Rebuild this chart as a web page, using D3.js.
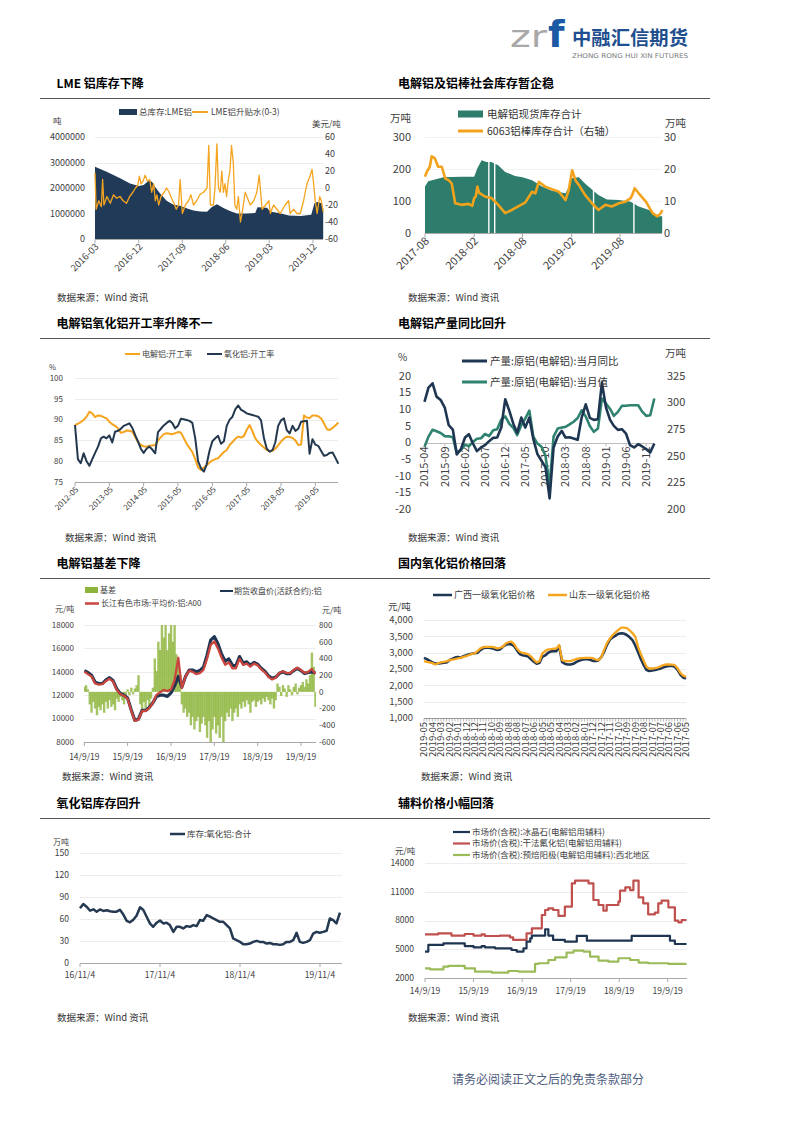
<!DOCTYPE html>
<html><head><meta charset="utf-8">
<script src="https://cdn.jsdelivr.net/npm/d3@7"></script>
<style>body{margin:0;background:#fff}</style>
</head><body>
<script>
// ---------------- DATA ----------------
// Chart 1: LME
const lmeStock = [["2016-03-01",2830000],["2016-05-13",2640000],["2016-08-06",2380000],["2016-10-07",2180000],["2016-12-01",2080000],["2017-01-01",2120000],["2017-02-01",2280000],["2017-02-22",2250000],["2017-03-13",2050000],["2017-04-13",1790000],["2017-05-25",1500000],["2017-07-07",1340000],["2017-08-18",1300000],["2017-10-01",1200000],["2017-11-10",1120000],["2017-12-22",1080000],["2018-02-03",1070000],["2018-03-04",1250000],["2018-04-06",1360000],["2018-05-17",1220000],["2018-06-27",1100000],["2018-08-09",1000000],["2018-10-12",1000000],["2018-12-03",1020000],["2018-12-17",1250000],["2019-02-15",1230000],["2019-03-07",1080000],["2019-05-15",1000000],["2019-07-01",920000],["2019-09-15",900000],["2019-11-20",950000],["2019-12-10",1400000],["2019-12-28",1450000],["2020-01-25",1400000],["2020-02-03",1220000]];
const lmeSpread = [["2016-03-01",18],["2016-03-08",-25],["2016-03-25",-15],["2016-04-10",-22],["2016-04-18",10],["2016-04-26",-20],["2016-05-15",-10],["2016-06-05",-18],["2016-06-25",-8],["2016-07-15",-12],["2016-08-05",-10],["2016-08-25",-15],["2016-09-15",-18],["2016-10-05",-10],["2016-10-25",-5],["2016-11-10",0],["2016-11-25",3],["2016-12-05",14],["2016-12-15",5],["2016-12-28",8],["2017-01-10",15],["2017-01-25",8],["2017-02-08",10],["2017-02-20",-5],["2017-03-05",5],["2017-03-15",-15],["2017-03-25",-8],["2017-04-05",-20],["2017-04-20",-10],["2017-05-10",-5],["2017-05-25",0],["2017-06-10",-5],["2017-06-25",-12],["2017-07-10",-18],["2017-07-25",-25],["2017-08-08",-20],["2017-08-18",10],["2017-09-01",-30],["2017-09-20",-20],["2017-10-10",-15],["2017-10-25",-8],["2017-11-10",-20],["2017-11-30",-15],["2017-12-20",-8],["2018-01-12",-5],["2018-02-03",0],["2018-02-14",50],["2018-02-24",-20],["2018-03-15",-20],["2018-03-25",0],["2018-04-06",52],["2018-04-16",0],["2018-04-27",-5],["2018-05-07",20],["2018-05-17",-5],["2018-05-27",5],["2018-06-06",-10],["2018-06-17",10],["2018-06-27",20],["2018-07-07",50],["2018-07-18",30],["2018-07-28",-20],["2018-08-09",-25],["2018-08-19",-10],["2018-09-01",-40],["2018-09-11",-30],["2018-10-01",-5],["2018-10-22",-15],["2018-11-01",-20],["2018-11-24",-15],["2018-12-13",-5],["2018-12-28",15],["2019-01-15",-25],["2019-02-06",-20],["2019-02-27",-15],["2019-03-08",-30],["2019-03-28",-20],["2019-04-18",-25],["2019-05-09",-30],["2019-06-09",-20],["2019-07-01",-15],["2019-07-10",-30],["2019-08-01",-25],["2019-08-22",-30],["2019-09-12",-30],["2019-10-03",-15],["2019-10-13",-5],["2019-10-24",5],["2019-11-14",15],["2019-11-25",22],["2019-12-05",5],["2019-12-15",-15],["2019-12-27",-30],["2020-01-12",-10],["2020-01-22",-15],["2020-02-03",-28]];
const lmeXTicks = ["2016-03","2016-12","2017-09","2018-06","2019-03","2019-12"];
const lmeYTicks = [0,1000000,2000000,3000000,4000000];
const lmeY2Ticks = [-60,-40,-20,0,20,40,60];

// Chart 2: social inventory
const socStock = [["2017-08-01",145],["2017-08-13",162],["2017-09-07",167],["2017-10-09",174],["2017-12-16",176],["2018-02-01",176],["2018-02-13",202],["2018-03-01",227],["2018-03-19",222],["2018-04-06",222],["2018-05-02",212],["2018-05-28",191],["2018-07-04",178],["2018-08-01",174],["2018-09-06",165],["2018-10-13",145],["2018-11-19",132],["2019-01-09",124],["2019-01-25",150],["2019-01-30",171],["2019-02-28",174],["2019-03-23",155],["2019-05-12",119],["2019-06-13",105],["2019-07-28",103],["2019-09-10",98],["2019-10-10",83],["2019-11-18",72],["2019-12-13",52],["2020-01-06",52]];
const socGaps = ["2018-03-28","2018-04-19","2019-04-24","2019-09-22"];
const rodStock = [["2017-08-01",17.6],["2017-08-07",19],["2017-08-19",20.7],["2017-08-26",24],["2017-09-07",23.3],["2017-09-19",20.7],["2017-10-03",20.7],["2017-10-16",17],["2017-10-28",16.5],["2017-11-09",15.5],["2017-11-22",9.3],["2017-12-16",8.8],["2018-01-11",9.1],["2018-01-25",8.5],["2018-02-01",10.9],["2018-02-07",11.4],["2018-02-13",14.5],["2018-02-19",12.6],["2018-03-13",11.4],["2018-04-07",10.9],["2018-05-02",8.8],["2018-05-28",6.2],["2018-06-22",7.2],["2018-07-16",8.3],["2018-08-11",9.5],["2018-09-06",12.9],["2018-09-18",12.4],["2018-10-01",16],["2018-10-25",14.5],["2018-11-19",13.7],["2018-12-15",12.9],["2019-01-09",10.3],["2019-01-21",13.4],["2019-02-03",19.6],["2019-02-15",16.5],["2019-03-04",14.5],["2019-03-23",11.9],["2019-04-18",9.3],["2019-05-12",7.2],["2019-06-07",8.8],["2019-07-01",8.3],["2019-07-28",9.3],["2019-08-21",9.8],["2019-09-10",10.9],["2019-09-16",11.9],["2019-09-25",14],["2019-10-10",12.4],["2019-11-06",9.8],["2019-12-01",6.2],["2019-12-19",5.2],["2020-01-01",6.2],["2020-01-06",7.2]];
const socXTicks = ["2017-08","2018-02","2018-08","2019-02","2019-08"];
const socYTicks = [0,100,200,300];
const socY2Ticks = [0,10,20,30];

// Chart 3: operating rates (monthly from 2012-05)
const rateStart = "2012-05";
const smeltRate = [88.7,89.0,89.4,89.9,90.7,91.9,91.5,90.6,91.0,90.9,90.6,90.3,89.5,88.9,88.5,87.9,86.8,87.0,87.4,87.3,87.1,85.8,84.6,83.9,83.6,83.5,83.7,83.8,83.9,85.0,85.8,86.5,86.7,86.6,86.5,86.7,87.0,86.9,85.6,84.2,83.2,82.2,80.5,78.5,77.9,78.5,79.0,79.6,80.2,80.5,80.7,81.5,82.2,82.7,83.9,84.6,85.4,85.9,85.7,86.0,87.5,88.7,87.2,85.5,84.6,83.9,83.3,82.7,82.4,82.5,83.0,83.8,84.7,85.4,85.9,85.8,85.6,85.0,83.9,84.0,91.0,90.5,90.4,91.0,91.0,90.8,90.3,89.1,87.7,87.5,88.0,88.6,89.3];
const aluminaRate = [88.7,80.5,79.5,81.9,80.0,78.9,80.5,82.0,83.5,85.5,85.9,85.5,86.2,84.5,87.1,87.3,87.8,88.5,88.8,89.1,88.0,86.2,84.8,83.0,82.0,83.0,83.5,82.8,81.9,87.0,87.8,88.6,89.2,89.7,89.2,87.9,88.5,90.2,90.1,89.9,89.7,89.2,85.5,80.0,78.3,77.5,79.2,82.5,84.8,85.5,86.1,84.2,84.8,88.5,90.0,90.7,92.5,93.4,92.4,92.0,91.5,91.3,91.1,90.9,90.7,89.8,85.5,83.0,82.3,82.7,84.5,88.5,89.8,90.3,87.5,86.7,88.5,87.3,87.8,89.5,89.6,89.7,81.8,85.3,84.0,83.7,82.5,81.3,81.5,82.0,82.1,80.8,79.4];
const rateXTicks = ["2012-05","2013-05","2014-05","2015-05","2016-05","2017-05","2018-05","2019-05"];
const rateYTicks = [75,80,85,90,95,100];

// Chart 4: production (monthly from 2015-04)
const prodStart = "2015-04";
const prodYoY = [12.2,16.5,17.8,13.8,12.8,10.5,5.2,3.9,-3.6,-2.0,1.5,2.5,-0.3,-2.6,-1.5,-0.8,0.4,1.4,1.5,4.5,13.0,9.5,5.5,2.9,7.5,4.5,7.5,1.0,-3.5,-5.5,-7.5,-16.8,-1.5,1.8,3.5,1.5,1.6,1.2,0.8,7.5,11.5,7.4,6.8,7.0,18.0,10.5,6.8,5.0,3.8,4.0,2.7,-0.8,-1.5,-0.5,-1.2,-2.0,-3.0,-0.3];
const prodVol = [258.4,268,274.5,273,271.5,268.5,268.3,267.5,252.5,255.5,260.5,259,263,266,266.5,270.5,268.5,274,275,284,287,280,276,269.5,278.8,285,292.5,268,261.5,258.5,250,221,268,275.6,276.6,277.2,279.5,282,285.5,292.8,287,278,272.5,275.6,303.8,299,294,287.5,291.3,296.9,297,297.5,297.5,297.5,291.5,287.5,288.1,303.8];
const prodXTicks = ["2015-04","2015-09","2016-02","2016-07","2016-12","2017-05","2017-10","2018-03","2018-08","2019-01","2019-06","2019-11"];
const prodYTicks = [-20,-15,-10,-5,0,5,10,15,20];
const prodY2Ticks = [200,225,250,275,300,325];

// Chart 5: basis (semi-monthly from 2014-09-19), prices (monthly)
const basisStart = "2014-09-19";
const basis = [60,80,30,-150,-250,-120,-200,-280,-180,-220,-150,-250,-120,-200,-100,-180,-150,-220,-80,-120,-60,-100,-150,-50,30,-40,50,-30,40,80,200,-150,-250,-120,-200,-100,-180,-80,50,400,250,600,500,800,650,800,500,700,800,600,800,450,300,200,-150,-250,-200,-300,-250,-400,-300,-450,-350,-300,-480,-380,-300,-400,-550,-350,-600,-450,-300,-500,-400,-550,-300,-600,-350,-250,-300,-200,-350,-250,-200,-300,-150,-200,-120,-180,-100,-150,-250,-120,-100,-180,-120,-100,-150,-80,-120,-60,-100,-150,-80,-200,-100,100,60,-50,80,40,-60,80,30,-40,60,100,-30,50,80,120,60,150,100,200,470,300,-180,-100];
const futuresPrice = [14100,13950,13700,13100,13000,13000,13300,13500,13250,12550,12150,12000,11750,10750,9850,9950,10700,10700,10950,11350,11900,12000,12000,11900,12200,12800,13600,12700,13600,14150,14150,14000,14100,14400,15400,16700,17000,16400,15500,14900,15100,14550,14500,15300,14750,14850,14550,14800,14650,14300,14050,13650,13450,13550,13850,14000,13850,13850,14100,14300,14100,13850,13950,14000,13900];
const spotPrice = [14020,13800,13600,13000,12900,12950,13200,13400,13170,12460,12100,11950,11700,10700,9800,9900,10650,10650,10900,11350,12030,12260,12450,12350,12500,13300,15200,12600,13600,14100,14000,13800,13880,14160,15100,16300,16600,16000,15200,14600,14800,14300,14300,15100,14600,14700,14450,14700,14550,14200,13950,13550,13350,13500,13900,14050,13900,13880,14150,14350,14150,13900,14000,14250,13800];
const basisXTicks = [["2014-09-19","14/9/19"],["2015-09-19","15/9/19"],["2016-09-19","16/9/19"],["2017-09-19","17/9/19"],["2018-09-19","18/9/19"],["2019-09-19","19/9/19"]];
const basisYTicks = [8000,10000,12000,14000,16000,18000];
const basisY2Ticks = [-600,-400,-200,0,200,400,600,800];

// Chart 6: alumina prices (categories, newest first)
const gxPrice = [2843,2800,2750,2700,2669,2669,2680,2690,2700,2771,2810,2850,2870,2843,2894,2920,2950,2966,2980,2997,3078,3140,3150,3150,3140,3109,3080,3100,3180,3240,3263,3253,3200,3070,2960,2920,2905,2880,2800,2720,2659,2690,2874,2915,2990,3040,3048,3048,3200,2720,2660,2640,2638,2660,2710,2755,2780,2800,2802,2785,2750,2745,2770,2874,3040,3250,3400,3470,3520,3580,3590,3585,3540,3470,3386,3220,3010,2800,2620,2470,2440,2455,2470,2490,2515,2555,2580,2590,2597,2570,2475,2330,2240,2208];
const sdPrice = [2740,2720,2705,2680,2640,2680,2700,2715,2730,2771,2790,2800,2822,2840,2870,2894,2930,2960,2976,3050,3130,3170,3180,3180,3180,3160,3130,3150,3180,3280,3320,3335,3260,3120,3030,2990,2976,2950,2880,2780,2700,2740,2976,3050,3100,3109,3120,3130,3232,2771,2745,2740,2740,2770,2800,2822,2835,2843,2843,2843,2830,2790,2771,2874,3100,3300,3437,3540,3620,3700,3765,3765,3750,3680,3600,3488,3180,2950,2750,2560,2515,2515,2530,2545,2580,2620,2638,2638,2635,2617,2520,2380,2300,2259];
const aluXLabels = ["2019-05","2019-04","2019-03","2019-02","2019-01","2018-12","2018-12","2018-11","2018-10","2018-09","2018-08","2018-08","2018-07","2018-06","2018-05","2018-05","2018-04","2018-03","2018-02","2018-01","2017-12","2017-12","2017-11","2017-10","2017-09","2017-09","2017-08","2017-07","2017-07","2017-06","2017-06","2017-05"];
const aluYTicks = [1000,1500,2000,2500,3000,3500,4000];

// Chart 7: alumina inventory (semi-monthly from 2016-11-04)
const aluInvStart = "2016-11-04";
const aluInv = [74.5,80.5,76.8,71.3,73.2,70,73,71,72,70.5,70,70,72.5,66,57.5,55.5,59,64.5,75.9,72.3,63.1,54,49.4,55,58,54,54.9,51.7,42.5,49.4,49.4,47.1,50.3,49.4,51.7,50.3,58.5,57.6,65.4,63.1,60.8,58.5,56.2,56.2,51.7,47.1,33.4,31.1,28.8,25.6,25.6,26.5,28.8,30.2,28.8,28.8,26.5,27.4,25.6,25.6,24.7,25.6,28.8,28.8,31.1,41.2,28.8,27.4,28.8,31.1,40.2,42.5,41.2,42.5,43.9,60.8,58.5,54,68.6];
const invXTicks = [["2016-11-04","16/11/4"],["2017-11-04","17/11/4"],["2018-11-04","18/11/4"],["2019-11-04","19/11/4"]];
const invYTicks = [0,30,60,90,120,150];

// Chart 8: auxiliary materials (step series)
const cryolite = [["2014-09-19",4770],["2014-10-14",5460],["2015-02-05",5630],["2015-07-15",5350],["2015-09-19",5220],["2015-11-19",5350],["2015-12-13",5220],["2016-02-28",5110],["2016-07-01",4940],["2016-08-09",4770],["2016-09-29",5110],["2016-10-22",5800],["2016-11-19",6150],["2016-12-01",6430],["2017-03-11",7090],["2017-04-04",6430],["2017-05-10",5980],["2017-08-06",5800],["2017-11-04",6400],["2018-01-19",5910],["2018-12-22",6400],["2019-10-06",5910],["2019-11-12",5560],["2020-02-08",5560]];
const alf3 = [["2014-09-19",6560],["2014-12-28",6670],["2015-04-06",6430],["2015-07-15",6600],["2015-09-19",6430],["2015-11-19",6560],["2015-12-13",6390],["2016-04-04",6430],["2016-06-19",6250],["2016-07-13",5980],["2016-10-22",6670],["2016-12-01",7190],["2017-02-14",8570],["2017-03-11",9090],["2017-04-04",9260],["2017-05-10",9090],["2017-06-19",8470],["2017-08-06",9440],["2017-09-28",11860],["2017-10-22",12130],["2018-01-31",11860],["2018-03-09",10130],["2018-04-17",9610],["2018-05-23",9020],["2018-06-17",9610],["2018-09-13",9960],["2018-09-25",11100],["2018-11-04",11440],["2018-12-10",11160],["2019-01-04",12130],["2019-02-12",10400],["2019-03-19",9780],["2019-04-25",8640],["2019-06-15",8810],["2019-07-10",9780],["2019-08-04",10060],["2019-09-24",9370],["2019-11-12",7980],["2019-12-08",7810],["2020-01-02",8050],["2020-02-08",8050]];
const anode = [["2014-09-19",3040],["2014-10-26",2930],["2015-02-05",3210],["2015-03-13",3280],["2015-07-15",3040],["2015-09-30",2690],["2016-02-03",2590],["2016-06-07",2760],["2016-08-22",2690],["2016-12-25",3490],["2017-01-19",3560],["2017-04-04",3900],["2017-05-25",4180],["2017-08-19",4660],["2017-10-10",4870],["2017-12-25",4770],["2018-02-12",4250],["2018-04-17",3830],["2018-06-29",3730],["2018-09-13",4080],["2018-12-10",3900],["2019-02-12",3630],["2019-04-25",3560],["2019-09-24",3490],["2020-02-08",3490]];
const auxXTicks = [["2014-09-19","14/9/19"],["2015-09-19","15/9/19"],["2016-09-19","16/9/19"],["2017-09-19","17/9/19"],["2018-09-19","18/9/19"],["2019-09-19","19/9/19"]];
const auxYTicks = [2000,5000,8000,11000,14000];

// ---------------- DRAW ----------------
const W=793,H=1122;
const svg=d3.select("body").append("svg").attr("width",W).attr("height",H).style("background","#fff");
const FONT="'Noto Sans CJK SC','Noto Sans',sans-serif";
const pd=d3.timeParse("%Y-%m-%d"), pm=d3.timeParse("%Y-%m");
const ORANGE="#f5a41f", GRID="#ededed", AXIS="#a9a9a9", LBL="#404040";

function T(x,y,s,o={}){
  return svg.append("text").attr("x",x).attr("y",y)
    .attr("font-family",o.family||FONT).attr("font-size",o.size||9)
    .attr("font-weight",o.weight||"normal").attr("fill",o.fill||LBL)
    .attr("text-anchor",o.anchor||"start").attr("dy",o.dy||null).text(s);
}
function L(x1,y1,x2,y2,c,w){ return svg.append("line").attr("x1",x1).attr("y1",y1).attr("x2",x2).attr("y2",y2).attr("stroke",c).attr("stroke-width",w||1); }
function grid(x0,x1,sc,ticks,c){ ticks.forEach(t=>L(x0,Math.round(sc(t))+0.5,x1,Math.round(sc(t))+0.5,c||GRID,1)); }
function yLab(sc,ticks,x,anchor,size,fmt){ ticks.forEach(t=>T(x,sc(t),fmt?fmt(t):String(t),{anchor,size,dy:"0.35em"})); }
function path(d,c,w,fill){ return svg.append("path").attr("d",d).attr("fill",fill||"none").attr("stroke",fill?"none":c).attr("stroke-width",w||1).attr("stroke-linejoin","round"); }
function rotLab(x,y,s,ang,size){ return T(0,0,s,{anchor:"end",size,dy:"0.35em"}).attr("transform",`translate(${x},${y}) rotate(${ang})`); }

// Header
T(510,47,"zr",{family:"'DejaVu Sans',sans-serif",size:31,fill:"#a8a8a8"}).attr("textLength",37).attr("lengthAdjust","spacingAndGlyphs");
T(548,47,"f",{family:"'DejaVu Sans',sans-serif",size:38,weight:"bold",fill:"#1d5aa6"});
T(572,44.5,"中融汇信期货",{size:19,weight:"bold",fill:"#1f4f8e"}).attr("textLength",116).attr("lengthAdjust","spacingAndGlyphs");
T(572,57.5,"ZHONG RONG HUI XIN FUTURES",{family:"'DejaVu Sans',sans-serif",size:6.5,fill:"#7a7a7a"}).attr("textLength",116).attr("lengthAdjust","spacingAndGlyphs");

// Titles, rules, sources
const titles=[["LME 铝库存下降",56.5,88],["电解铝及铝棒社会库存暂企稳",398,88],["电解铝氧化铝开工率升降不一",56.5,328],["电解铝产量同比回升",398,328],["电解铝基差下降",56.5,568],["国内氧化铝价格回落",398,568],["氧化铝库存回升",56.5,808],["辅料价格小幅回落",398,808]];
titles.forEach(t=>T(t[1],t[2],t[0],{size:12,weight:"bold",fill:"#000"}));
[98,338,578,818].forEach(y=>L(40,y+0.5,710,y+0.5,"#555",1));
const sources=[[57,301],[408,301],[65,541],[408,541],[62,780],[421,780],[57,1021],[408,1021]];
sources.forEach(s=>T(s[0],s[1],"数据来源：Wind 资讯",{size:9.5,fill:"#333"}));
T(452,1084,"请务必阅读正文之后的免责条款部分",{size:12,fill:"#4d5b7c"});

// ===== Chart 1: LME =====
{
  const x=d3.scaleTime().domain([pd("2016-03-01"),pd("2019-12-01")]).range([95,313]);
  const y=d3.scaleLinear().domain([0,4000000]).range([239,137]);
  const y2=d3.scaleLinear().domain([-60,60]).range([239,137]);
  grid(95,323,y,lmeYTicks.slice(1));
  path(d3.area().x(d=>x(pd(d[0]))).y0(y(0)).y1(d=>y(d[1]))(lmeStock),null,0,"#213a57");
  path(d3.line().x(d=>x(pd(d[0]))).y(d=>y2(d[1]))(lmeSpread),ORANGE,1.3);
  L(95,239.5,323,239.5,AXIS,1);
  lmeXTicks.forEach(t=>{const xx=x(pm(t)); L(xx,239.5,xx,243,AXIS,1); rotLab(xx+2,245,t,-45,9.5);});
  yLab(y,lmeYTicks,85,"end",9);
  yLab(y2,lmeY2Ticks,325,"start",9);
  T(53,124,"吨",{size:8.5});
  T(312,127,"美元/吨",{size:8.5});
  svg.append("rect").attr("x",119).attr("y",109).attr("width",18).attr("height",6).attr("fill","#213a57");
  T(139,112,"总库存:LME铝",{size:8.5,dy:"0.35em"});
  L(192,112,208,112,ORANGE,2);
  T(211,112,"LME铝升贴水(0-3)",{size:8.5,dy:"0.35em"});
}

// ===== Chart 2: social inventory =====
{
  const x=d3.scaleTime().domain([pd("2017-08-01"),pd("2019-08-01")]).range([425,620]);
  const y=d3.scaleLinear().domain([0,300]).range([233,137]);
  const y2=d3.scaleLinear().domain([0,30]).range([233,137]);
  grid(425,662,y,socYTicks.slice(1),"#f2f2f2");
  path(d3.area().x(d=>x(pd(d[0]))).y0(y(0)).y1(d=>y(d[1]))(socStock),null,0,"#2e7c6c");
  socGaps.forEach(g=>L(x(pd(g)),y(0),x(pd(g)),y(240),"#fff",1.4));
  path(d3.line().x(d=>x(pd(d[0]))).y(d=>y2(d[1]))(rodStock),"#f3a21b",2.6);
  L(425,233.5,662,233.5,AXIS,1);
  socXTicks.forEach(t=>{const xx=x(pm(t)); L(xx,233.5,xx,237,AXIS,1); rotLab(xx+2,239,t,-45,11);});
  yLab(y,socYTicks,411,"end",11);
  yLab(y2,socY2Ticks,664,"start",11);
  T(390,118,"万吨",{size:10.5,dy:"0.35em"});
  T(665,123,"万吨",{size:10.5,dy:"0.35em"});
  svg.append("rect").attr("x",458).attr("y",110.5).attr("width",25).attr("height",7).attr("fill","#2e7c6c");
  T(487,114,"电解铝现货库存合计",{size:10.5,dy:"0.35em",fill:"#333"});
  L(458,131,483,131,"#f3a21b",3);
  T(487,131,"6063铝棒库存合计（右轴）",{size:10.5,dy:"0.35em",fill:"#333"});
}

// ===== Chart 3: operating rates =====
{
  const x=d3.scaleTime().domain([pm("2012-05"),pm("2019-05")]).range([75,315.3]);
  const y=d3.scaleLinear().domain([75,100]).range([482,378]);
  const s0=pm(rateStart);
  grid(75,338,y,rateYTicks.slice(1));
  const ln=d3.line().x((d,i)=>x(d3.timeMonth.offset(s0,i))).y(d=>y(d));
  path(ln(smeltRate),ORANGE,2);
  path(ln(aluminaRate),"#24384f",2);
  L(75,482.5,338,482.5,AXIS,1);
  rateXTicks.forEach(t=>{const xx=x(pm(t)); L(xx,482.5,xx,486,AXIS,1); rotLab(xx+2,488,t,-45,8);});
  yLab(y,rateYTicks,63,"end",8);
  T(49,367,"%",{size:7.5,dy:"0.35em"});
  L(125,354,140,354,ORANGE,2);
  T(142,354,"电解铝:开工率",{size:8,dy:"0.35em"});
  L(207,354,222,354,"#24384f",2);
  T(224,354,"氧化铝:开工率",{size:8,dy:"0.35em"});
}

// ===== Chart 4: production =====
{
  const x=d3.scaleTime().domain([pm("2015-04"),pm("2019-06")]).range([424.5,626]);
  const y=d3.scaleLinear().domain([-20,20]).range([509,376]);
  const y2=d3.scaleLinear().domain([200,325]).range([509,376]);
  const s0=pm(prodStart);
  const y0=Math.round(y(0))+0.5;
  L(424,y0,654,y0,"#bdbdbd",1);
  prodXTicks.forEach(t=>{const xx=x(pm(t)); L(xx,y0,xx,y0+3,"#bdbdbd",1); rotLab(xx,y0+3,t,-90,11);});
  path(d3.line().x((d,i)=>x(d3.timeMonth.offset(s0,i))).y(d=>y2(d))(prodVol),"#2f8370",2.6);
  path(d3.line().x((d,i)=>x(d3.timeMonth.offset(s0,i))).y(d=>y(d))(prodYoY),"#1f3653",2.6);
  yLab(y,prodYTicks,411,"end",11);
  yLab(y2,prodY2Ticks,667,"start",11);
  T(398,357,"%",{size:10,dy:"0.35em"});
  T(665,353,"万吨",{size:10.5,dy:"0.35em"});
  L(462,361,487,361,"#1f3653",3);
  T(490,361,"产量:原铝(电解铝):当月同比",{size:10.5,dy:"0.35em",fill:"#333"});
  L(462,382,487,382,"#2f8370",3);
  T(490,382,"产量:原铝(电解铝):当月值",{size:10.5,dy:"0.35em",fill:"#333"});
}

// ===== Chart 5: basis =====
{
  const x=d3.scaleTime().domain([pd("2014-09-19"),pd("2019-09-19")]).range([84.3,301]);
  const y=d3.scaleLinear().domain([8000,18000]).range([742,625]);
  const y2=d3.scaleLinear().domain([-600,800]).range([742,625]);
  grid(84,316,y,basisYTicks.slice(1));
  svg.append("clipPath").attr("id","c5").append("rect").attr("x",84).attr("y",625).attr("width",232).attr("height",117);
  const g=svg.append("g").attr("clip-path","url(#c5)");
  const b0=pd(basisStart);
  basis.forEach((v,i)=>{
    const xx=x(d3.timeDay.offset(b0,Math.round(i*365.25/24)));
    g.append("rect").attr("x",xx-1.2).attr("width",2.4).attr("y",Math.min(y2(0),y2(v))).attr("height",Math.abs(y2(v)-y2(0))).attr("fill","#8db53c").attr("opacity",0.8);
  });
  const ln=d3.line().x((d,i)=>x(d3.timeMonth.offset(b0,i))).y(d=>y(d));
  g.append("path").attr("d",ln(futuresPrice)).attr("fill","none").attr("stroke","#1f3653").attr("stroke-width",3.2).attr("stroke-linejoin","round");
  g.append("path").attr("d",ln(spotPrice)).attr("fill","none").attr("stroke","#c9463f").attr("stroke-width",2.3).attr("stroke-linejoin","round");
  L(84,742.5,316,742.5,AXIS,1);
  basisXTicks.forEach(t=>{const xx=x(pd(t[0])); L(xx,742.5,xx,746,AXIS,1); T(xx,757,t[1],{size:8.5,anchor:"middle",dy:"0.35em"});});
  yLab(y,basisYTicks,74,"end",8);
  yLab(y2,basisY2Ticks,319,"start",8);
  T(55,609,"元/吨",{size:8,dy:"0.35em"});
  T(322,610,"元/吨",{size:8,dy:"0.35em"});
  svg.append("rect").attr("x",85).attr("y",587).attr("width",13).attr("height",6).attr("fill","#8db53c");
  T(100,590,"基差",{size:8,dy:"0.35em"});
  L(220,591,233,591,"#1f3653",2);
  T(234,591,"期货收盘价(活跃合约):铝",{size:8,dy:"0.35em"});
  L(85,603.5,99,603.5,"#c9463f",2.5);
  T(101,603.5,"长江有色市场:平均价:铝:A00",{size:8,dy:"0.35em"});
}

// ===== Chart 6: alumina prices =====
{
  const n=gxPrice.length;
  const x=d3.scalePoint().domain(d3.range(n)).range([424,686]);
  const y=d3.scaleLinear().domain([1000,4000]).range([718,620]);
  grid(424,686,y,aluYTicks.slice(1));
  L(424,718.5,686,718.5,"#999",1);
  d3.range(n).forEach(i=>L(x(i),718.5,x(i),721.5,"#999",0.7));
  const step=(n-1)/(aluXLabels.length-1);
  aluXLabels.forEach((t,j)=>rotLab(x(Math.round(j*step)),722,t,-90,9.5));
  const ln=d3.line().x((d,i)=>x(i)).y(d=>y(d));
  path(ln(gxPrice),"#1f3653",2.6);
  path(ln(sdPrice),"#f5a51e",2.3);
  yLab(y,aluYTicks,413,"end",9.5,d3.format(","));
  T(388,607,"元/吨",{size:9.5,dy:"0.35em"});
  L(433,595,452,595,"#1f3653",2.5);
  T(454,595,"广西一级氧化铝价格",{size:9,dy:"0.35em"});
  L(548,595,567,595,"#f5a51e",2.5);
  T(569,595,"山东一级氧化铝价格",{size:9,dy:"0.35em"});
}

// ===== Chart 7: alumina inventory =====
{
  const x=d3.scaleTime().domain([pd("2016-11-04"),pd("2019-11-04")]).range([80,320]);
  const y=d3.scaleLinear().domain([0,150]).range([963,853]);
  const s0=pd(aluInvStart);
  grid(80,342,y,invYTicks.slice(1));
  L(80,963.5,342,963.5,AXIS,1);
  invXTicks.forEach(t=>{const xx=x(pd(t[0])); L(xx,963.5,xx,967,AXIS,1); T(xx,975,t[1],{size:8.5,anchor:"middle",dy:"0.35em"});});
  path(d3.line().x((d,i)=>x(d3.timeDay.offset(s0,Math.round(i*15.2)))).y(d=>y(d))(aluInv),"#253a52",2.5);
  yLab(y,invYTicks,69,"end",8.5);
  T(53,842,"万吨",{size:8,dy:"0.35em"});
  L(170,834,185,834,"#253a52",2.5);
  T(187,834,"库存:氧化铝:合计",{size:8.5,dy:"0.35em"});
}

// ===== Chart 8: auxiliary materials =====
{
  const x=d3.scaleTime().domain([pd("2014-09-19"),pd("2019-09-19")]).range([425,667.7]);
  const y=d3.scaleLinear().domain([2000,14000]).range([978.3,862.7]);
  grid(425,687,y,auxYTicks.slice(1));
  L(425,978.5,687,978.5,AXIS,1);
  auxXTicks.forEach(t=>{const xx=x(pd(t[0])); L(xx,978.5,xx,982,AXIS,1); T(xx,991.5,t[1],{size:8.5,anchor:"middle",dy:"0.35em"});});
  const ln=d3.line().curve(d3.curveStepAfter).x(d=>x(pd(d[0]))).y(d=>y(d[1]));
  path(ln(anode),"#9bbb59",2.2);
  path(ln(alf3),"#c0504d",2.2);
  path(ln(cryolite),"#1f3653",2.2);
  yLab(y,auxYTicks,414,"end",8.5);
  T(395,851,"元/吨",{size:8.5,dy:"0.35em"});
  [["市场价(含税):冰晶石(电解铝用辅料)","#1f3653",832],["市场价(含税):干法氟化铝(电解铝用辅料)","#c0504d",843.5],["市场价(含税):预焙阳极(电解铝用辅料):西北地区","#9bbb59",855]].forEach(l=>{
    L(453,l[2],470,l[2],l[1],2.2);
    T(472,l[2],l[0],{size:8.5,dy:"0.35em"});
  });
}
</script>
</body></html>
